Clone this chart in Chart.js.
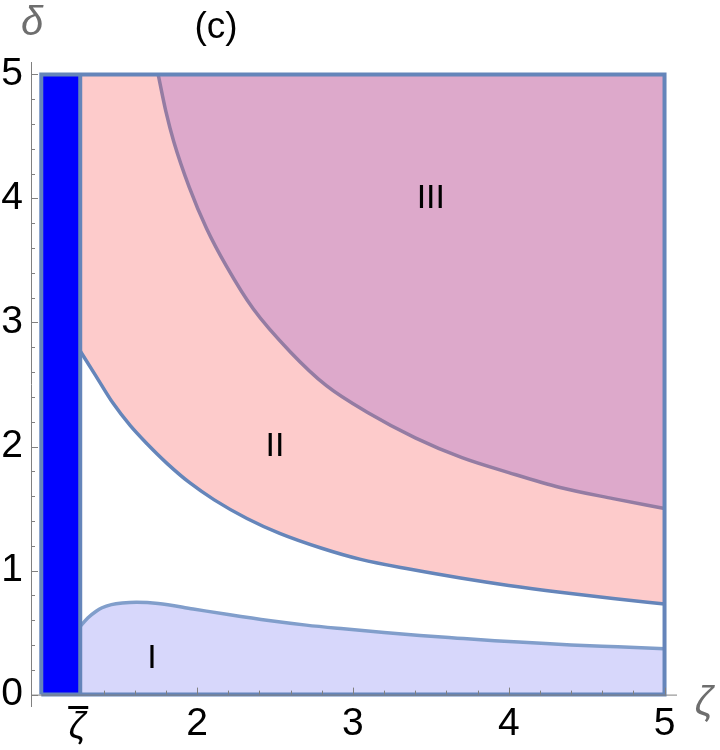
<!DOCTYPE html>
<html>
<head>
<meta charset="utf-8">
<script src="https://cdn.jsdelivr.net/npm/chart.js@4/dist/chart.umd.min.js"></script>
<style>
  html, body { margin: 0; padding: 0; background: #fff; }
  #wrap { width: 720px; height: 750px; }
</style>
</head>
<body>
<div id="wrap"><canvas id="regionChart" width="720" height="750"></canvas></div>
<script>
// --- data ---
const zetaBar = 1.25;               // right edge of the blue strip
const stripX = [1, zetaBar];
const stripY = [5, 5];

// boundary of region I (filled down to 0)
const curveIx = [1.25, 1.30, 1.35, 1.39, 1.45, 1.52, 1.61, 1.75, 1.975, 2.20, 2.46, 2.70, 2.94, 3.20, 3.43, 3.67, 3.91, 4.15, 4.40, 4.70, 5.00];
const curveIy = [0.55, 0.62, 0.67, 0.70, 0.725, 0.738, 0.744, 0.735, 0.69, 0.645, 0.597, 0.56, 0.53, 0.50, 0.476, 0.455, 0.435, 0.418, 0.40, 0.385, 0.37];

// lower boundary of region II (filled up to 5)
const curveIIx = [1.25, 1.35, 1.46, 1.57, 1.68, 1.81, 1.95, 2.11, 2.32, 2.53, 2.80, 3.05, 3.37, 3.69, 4.00, 4.33, 4.67, 5.00];
const curveIIy = [2.77, 2.57, 2.35, 2.17, 2.02, 1.86, 1.71, 1.57, 1.42, 1.30, 1.18, 1.09, 1.01, 0.94, 0.88, 0.825, 0.775, 0.73];

// lower boundary of region III (filled up to 5)
const curveIIIx = [1.75, 1.80, 1.85, 1.95, 2.06, 2.19, 2.36, 2.60, 2.83, 3.10, 3.40, 3.70, 4.00, 4.33, 4.67, 5.00];
const curveIIIy = [5.00, 4.70, 4.46, 4.09, 3.76, 3.45, 3.11, 2.76, 2.49, 2.27, 2.07, 1.91, 1.79, 1.67, 1.58, 1.50];

// frame of the plotted region
const frameX = [1, 1, 5, 5, 1];
const frameY = [0, 5, 5, 0, 0];

// tick labels (the zeta-bar tick is written by the plugin so the bar sits over it)
const xTickValues = [2, 3, 4, 5];
const xTickLabels = ["2", "3", "4", "5"];
const zetaBarLabel = "ζ";
const xMajorMarks = [2, 3, 4, 5];
const xMinorMarks = [1.4, 1.6, 1.8, 2.2, 2.4, 2.6, 2.8, 3.2, 3.4, 3.6, 3.8, 4.2, 4.4, 4.6, 4.8];
const yTickValues = [0, 1, 2, 3, 4, 5];
const yMinorMarks = [0.2, 0.4, 0.6, 0.8, 1.2, 1.4, 1.6, 1.8, 2.2, 2.4, 2.6, 2.8, 3.2, 3.4, 3.6, 3.8, 4.2, 4.4, 4.6, 4.8];

// region names
const regionNames = ["I", "II", "III"];
const regionNameX = [1.71, 2.5, 3.5];
const regionNameY = [0.29, 2.0, 4.0];

const pts = (xs, ys) => xs.map((x, i) => ({ x: x, y: ys[i] }));

const FRAME = "#6585ba";
const AXIS = "#808080";
const SANS = "'Liberation Sans', Arial, sans-serif";

// axes with inward ticks, region names and the axis captions
const mmaAxes = {
  id: "mmaAxes",
  afterDatasetsDraw(chart) {
    const { ctx, chartArea } = chart;
    const xs = chart.scales.x;
    const ys = chart.scales.y;
    const y0 = ys.getPixelForValue(0);
    const xl = chartArea.left;
    ctx.save();
    ctx.strokeStyle = AXIS;
    ctx.lineWidth = 1;
    const seg = (a, b, c, d) => {
      ctx.beginPath();
      ctx.moveTo(a, b);
      ctx.lineTo(c, d);
      ctx.stroke();
    };
    seg(chartArea.left, y0 + 0.5, chartArea.right, y0 + 0.5);
    seg(xl + 0.5, chartArea.top, xl + 0.5, chartArea.bottom);
    xMajorMarks.forEach((v) => {
      const p = Math.round(xs.getPixelForValue(v)) + 0.5;
      seg(p, y0, p, y0 - 7);
    });
    xMinorMarks.forEach((v) => {
      const p = Math.round(xs.getPixelForValue(v)) + 0.5;
      seg(p, y0, p, y0 - 4);
    });
    yTickValues.forEach((v) => {
      const p = Math.round(ys.getPixelForValue(v)) + 0.5;
      seg(xl, p, xl + 7, p);
    });
    yMinorMarks.forEach((v) => {
      const p = Math.round(ys.getPixelForValue(v)) + 0.5;
      seg(xl, p, xl + 4, p);
    });

    ctx.fillStyle = "#000";
    ctx.textAlign = "center";

    // zeta-bar tick label with its bar
    const zx = xs.getPixelForValue(zetaBar) - 3;
    ctx.textBaseline = "alphabetic";
    ctx.font = "italic 37px " + SANS;
    ctx.fillText(zetaBarLabel, zx, 738);
    ctx.fillRect(zx - 9, 706, 20, 3);

    ctx.textBaseline = "middle";
    ctx.font = "34px " + SANS;
    regionNames.forEach((t, i) => {
      ctx.fillText(t, xs.getPixelForValue(regionNameX[i]), ys.getPixelForValue(regionNameY[i]));
    });

    ctx.font = "37px " + SANS;
    ctx.fillText("(c)", 216, 28);

    ctx.fillStyle = "#6e6e6e";
    ctx.font = "italic 40px " + SANS;
    ctx.fillText("δ", 32, 24);
    ctx.fillText("ζ", 704, 704);
    ctx.restore();
  }
};

const ctx = document.getElementById("regionChart").getContext("2d");
new Chart(ctx, {
  type: "line",
  data: {
    datasets: [
      {
        // outer frame, on top of everything
        data: pts(frameX, frameY),
        borderColor: FRAME,
        borderWidth: 4,
        fill: false,
        tension: 0,
        order: 0
      },
      {
        // divider at zeta bar
        data: pts([zetaBar, zetaBar], [0, 5]),
        borderColor: FRAME,
        borderWidth: 4,
        fill: false,
        tension: 0,
        order: 1
      },
      {
        data: pts(stripX, stripY),
        borderWidth: 0,
        borderColor: "rgba(0,0,0,0)",
        backgroundColor: "#0000ff",
        fill: { value: 0 },
        tension: 0,
        order: 2
      },
      {
        data: pts(curveIIIx, curveIIIy),
        borderColor: "#947ca3",
        borderWidth: 3.5,
        backgroundColor: "#dda9cb",
        fill: { value: 5 },
        cubicInterpolationMode: "monotone",
        order: 3
      },
      {
        data: pts(curveIIx, curveIIy),
        borderColor: FRAME,
        borderWidth: 3.5,
        backgroundColor: "#fdcbcb",
        fill: { value: 5 },
        cubicInterpolationMode: "monotone",
        order: 4
      },
      {
        data: pts(curveIx, curveIy),
        borderColor: "#819ecb",
        borderWidth: 3.5,
        backgroundColor: "#d7d7fb",
        fill: { value: 0 },
        cubicInterpolationMode: "monotone",
        order: 5
      }
    ]
  },
  options: {
    responsive: false,
    animation: false,
    layout: { padding: { top: 62, right: 43, left: 0, bottom: 0 } },
    elements: { point: { radius: 0, hoverRadius: 0 } },
    plugins: {
      legend: { display: false },
      tooltip: { enabled: false }
    },
    scales: {
      x: {
        type: "linear",
        min: 0.934,
        max: 5.08,
        grid: { display: false, drawTicks: false },
        border: { display: false },
        afterFit: (scale) => { scale.height = 43; },
        afterBuildTicks: (scale) => {
          scale.ticks = xTickValues.map((v) => ({ value: v }));
        },
        ticks: {
          color: "#000",
          padding: -2,
          maxRotation: 0,
          autoSkip: false,
          font: { family: SANS, size: 39, lineHeight: 1 },
          callback: (value) => {
            const i = xTickValues.indexOf(value);
            return i >= 0 ? xTickLabels[i] : "";
          }
        }
      },
      y: {
        type: "linear",
        min: -0.1,
        max: 5.1,
        grid: { display: false, drawTicks: false },
        border: { display: false },
        afterFit: (scale) => { scale.width = 31; },
        afterBuildTicks: (scale) => {
          scale.ticks = yTickValues.map((v) => ({ value: v }));
        },
        ticks: {
          color: "#000",
          padding: 8,
          autoSkip: false,
          font: { family: SANS, size: 39, lineHeight: 1 },
          callback: (value) => String(value)
        }
      }
    }
  },
  plugins: [mmaAxes]
});
</script>
</body>
</html>
